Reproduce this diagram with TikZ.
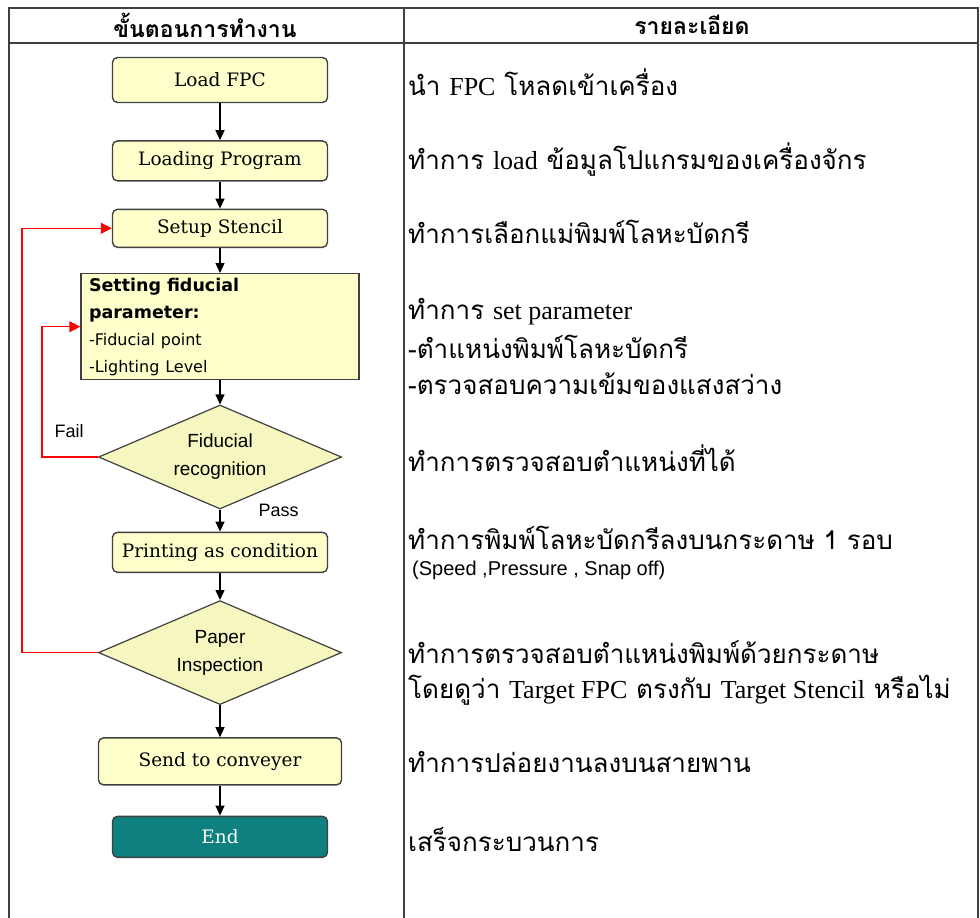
\documentclass[tikz,border=0pt]{standalone}
\usepackage{fontspec}
\setmainfont{DejaVu Serif}
\newfontfamily\thai[Script=Thai]{Loma}
\newfontfamily\latserif{Liberation Serif}
\newfontfamily\latsans{Liberation Sans}
\newfontfamily\verdana{DejaVu Sans}
\usepackage{xcolor}
\usetikzlibrary{positioning, arrows.meta, shapes.geometric}
\definecolor{boxyellow}{RGB}{255,255,204}
\definecolor{diayellow}{RGB}{246,246,192}
\definecolor{endteal}{RGB}{14,128,128}
\definecolor{linegray}{RGB}{64,64,64}

\begin{document}
\begin{tikzpicture}[x=1pt, y=1pt, node distance=30pt,
  box/.style={draw=linegray, line width=1.4pt, rounded corners=5pt, fill=boxyellow, minimum width=215pt, minimum height=40pt, inner sep=2pt, font=\fontsize{18.5}{22}\selectfont},
  setbox/.style={draw=linegray, line width=1.4pt, fill=boxyellow, minimum width=278pt, minimum height=106pt, text width=262pt, inner xsep=8pt, inner ysep=2pt, align=left, font=\verdana\fontsize{17.5}{27}\selectfont},
  decision/.style={diamond, aspect=2.34, draw=linegray, line width=1.2pt, fill=diayellow, minimum width=243pt, minimum height=104pt, inner sep=0pt, align=center, font=\latsans\fontsize{19}{28}\selectfont},
  endbox/.style={box, fill=endteal, text=white},
  arr/.style={-{Triangle[width=9pt,length=10pt]}, line width=1.4pt},
  fb/.style={-{Triangle[width=11pt,length=11pt]}, red, line width=1.4pt},
  lbl/.style={font=\latsans\fontsize{18}{20}\selectfont, inner sep=0pt, text=black},
  desc/.style={anchor=west, font=\thai\fontsize{26}{28}\selectfont, inner sep=0pt},
  head/.style={font=\thai\bfseries\fontsize{23}{24}\selectfont, inner sep=0pt},
  tline/.style={linegray, line width=1.8pt}]
  \useasboundingbox (0,0) rectangle (980,-918);
  \clip (0,0) rectangle (980,-918);

  % table
  \draw[tline] (9,-930) -- (9,-8) -- (978,-8) -- (978,-930);
  \draw[tline] (9,-43) -- (978,-43);
  \draw[tline] (404,-8) -- (404,-930);
  \node[head] (hsteps) at (205,-25) {ขั้นตอนการทำงาน};
  \node[head] (hdetail) at (692,-25) {รายละเอียด};

  % flow
  \node[box, minimum height=45pt] (load) at (220,-80) {Load FPC};
  \node[box, below=37pt of load] (loading) {Loading Program};
  \node[box, below=27pt of loading, minimum height=38pt] (setup) {Setup Stencil};
  \node[setbox, below=25pt of setup] (setting) {\textbf{Setting fiducial}\\\textbf{parameter:}\\{\fontsize{16}{27}\selectfont -Fiducial point}\\{\fontsize{16}{27}\selectfont -Lighting Level}};
  \node[decision, below=24pt of setting] (fid) {Fiducial\\recognition};
  \node[box, below=22pt of fid] (print) {Printing as condition};
  \node[decision, below=27pt of print] (paper) {Paper\\Inspection};
  \node[box, below=32pt of paper, minimum width=243pt, minimum height=47pt] (send) {Send to conveyer};
  \node[endbox, below=30pt of send, minimum height=41pt] (end) {End};

  \draw[arr] (load) -- (loading);
  \draw[arr] (loading) -- (setup);
  \draw[arr] (setup) -- (setting);
  \draw[arr] (setting) -- (fid);
  \draw[arr] (fid) -- node[lbl, right=38pt, pos=0.05]{Pass} (print);
  \draw[arr] (print) -- (paper);
  \draw[arr] (paper) -- (send);
  \draw[arr] (send) -- (end);

  % feedback loops
  \draw[fb] (fid.west) -- ++(-56,0) |- node[lbl, pos=0.1, right=12pt]{Fail} (setting.west);
  \draw[fb] (paper.west) -- ++(-76,0) |- (setup.west);

  % details
  \node[desc] (dload) at (408,-82) {นำ {\latserif FPC} โหลดเข้าเครื่อง};
  \node[desc] (dprog) at (408,-160) {ทำการ {\latserif load} ข้อมูลโปแกรมของเครื่องจักร};
  \node[desc] (dsetup) at (408,-232) {ทำการเลือกแม่พิมพ์โลหะบัดกรี};
  \node[desc] (dset) at (408,-312) {ทำการ {\latserif set parameter}};
  \node[desc] (dpos) at (408,-347) {-ตำแหน่งพิมพ์โลหะบัดกรี};
  \node[desc] (dlight) at (408,-384) {-ตรวจสอบความเข้มของแสงสว่าง};
  \node[desc] (dfid) at (408,-458) {ทำการตรวจสอบตำแหน่งที่ได้};
  \node[desc] (dprint) at (408,-538) {ทำการพิมพ์โลหะบัดกรีลงบนกระดาษ 1 รอบ};
  \node[desc, font=\latsans\fontsize{20}{22}\selectfont] (dcond) at (412,-570) {(Speed ,Pressure , Snap off)};
  \node[desc] (dpaper) at (408,-652) {ทำการตรวจสอบตำแหน่งพิมพ์ด้วยกระดาษ};
  \node[desc] (dtarget) at (408,-690) {โดยดูว่า {\latserif Target FPC} ตรงกับ {\latserif Target Stencil} หรือไม่};
  \node[desc] (dsend) at (408,-762) {ทำการปล่อยงานลงบนสายพาน};
  \node[desc] (dend) at (408,-840) {เสร็จกระบวนการ};
\end{tikzpicture}
\end{document}
